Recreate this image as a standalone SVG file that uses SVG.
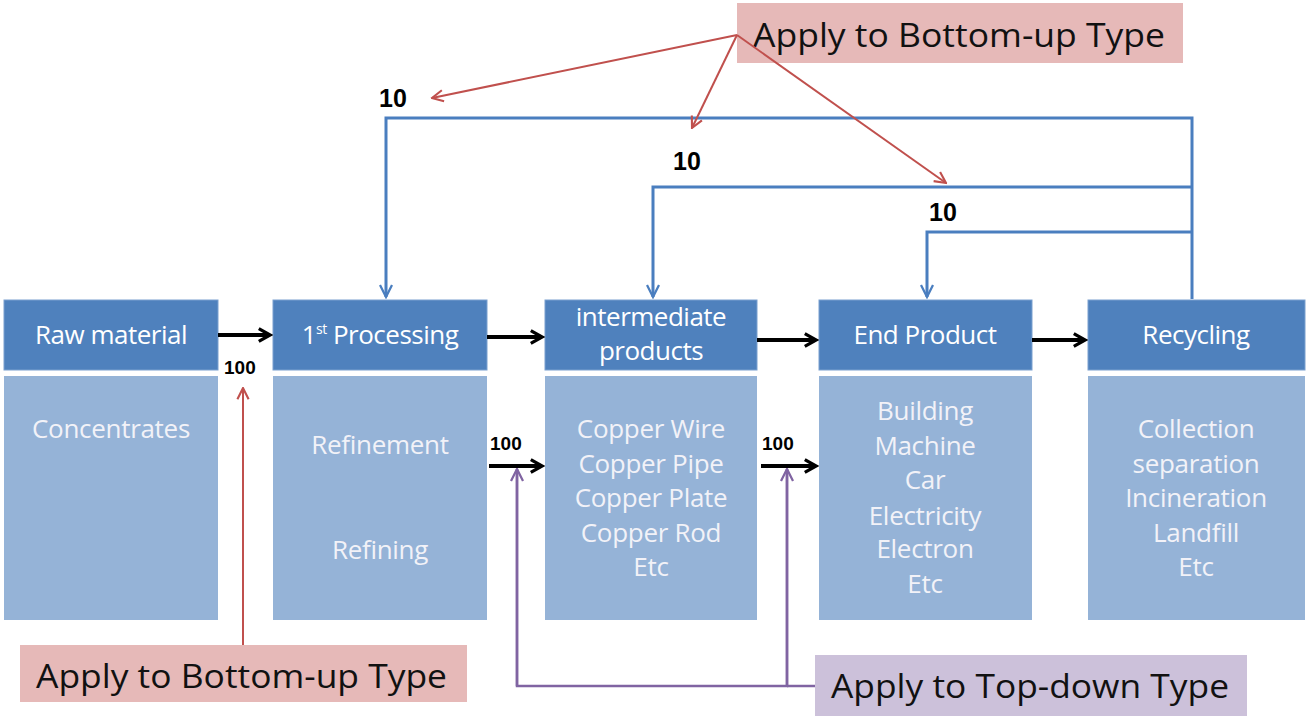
<svg xmlns="http://www.w3.org/2000/svg" width="1307" height="717" viewBox="0 0 1307 717">
<defs>
<style>
.hdr{fill:#4f81bd;stroke:#7aa0cf;stroke-width:1}
.body{fill:#95b3d7}
.ht{font-family:"Open Sans","Liberation Sans",sans-serif;font-size:26px;fill:#ffffff;text-anchor:middle;letter-spacing:-0.5px}
.bt{font-family:"Open Sans","Liberation Sans",sans-serif;font-size:26px;fill:#f2f2f8;text-anchor:middle;letter-spacing:-0.3px}
.num{font-family:"Liberation Sans",sans-serif;font-weight:bold;fill:#000}
.lbl{font-family:"Open Sans","Liberation Sans",sans-serif;font-size:32px;fill:#111}
.blk{stroke:#000;stroke-width:4;fill:none}
.blue{stroke:#4a7ebf;stroke-width:3;fill:none}
.red{stroke:#c0504d;stroke-width:2;fill:none}
.pur{stroke:#8064a2;stroke-width:2.5;fill:none}
</style>
<marker id="mb" viewBox="0 0 10 10" refX="8" refY="5" markerWidth="4" markerHeight="4" orient="auto" markerUnits="strokeWidth"><path d="M1,1 L8,5 L1,9" fill="none" stroke="#000" stroke-width="2"/></marker>
<marker id="mbl" viewBox="0 0 10 10" refX="9" refY="5" markerWidth="5" markerHeight="5" orient="auto" markerUnits="strokeWidth"><path d="M1,1 L9,5 L1,9" fill="none" stroke="#4a7ebf" stroke-width="1.5"/></marker>
<marker id="mr" viewBox="0 0 10 10" refX="9" refY="5" markerWidth="7" markerHeight="7" orient="auto" markerUnits="strokeWidth"><path d="M1,1 L9,5 L1,9" fill="none" stroke="#c0504d" stroke-width="1.5"/></marker>
<marker id="mp" viewBox="0 0 10 10" refX="9" refY="5" markerWidth="6" markerHeight="6" orient="auto" markerUnits="strokeWidth"><path d="M1,1 L9,5 L1,9" fill="none" stroke="#8064a2" stroke-width="1.5"/></marker>
</defs>
<rect width="1307" height="717" fill="#fff"/>

<g id="raw">
<rect class="hdr" x="4" y="300" width="214" height="70"/>
<text class="ht" x="111" y="344">Raw material</text>
<rect class="body" x="4" y="376" width="214" height="244"/>
<text class="bt" x="111" y="438">Concentrates</text>
</g>

<g id="proc1">
<rect class="hdr" x="273" y="300" width="214" height="70"/>
<text class="ht" x="380" y="344">1<tspan font-size="14" dy="-10">st</tspan><tspan dy="10">  Processing</tspan></text>
<rect class="body" x="273" y="376" width="214" height="244"/>
<text class="bt" x="380" y="454">Refinement</text>
<text class="bt" x="380" y="559">Refining</text>
</g>

<g id="inter">
<rect class="hdr" x="545" y="300" width="212" height="70"/>
<text class="ht" x="651" y="326">intermediate</text>
<text class="ht" x="651" y="360">products</text>
<rect class="body" x="545" y="376" width="212" height="244"/>
<text class="bt" x="651" y="438">Copper Wire</text>
<text class="bt" x="651" y="473">Copper Pipe</text>
<text class="bt" x="651" y="507">Copper Plate</text>
<text class="bt" x="651" y="542">Copper Rod</text>
<text class="bt" x="651" y="576">Etc</text>
</g>

<g id="endp">
<rect class="hdr" x="819" y="300" width="213" height="70"/>
<text class="ht" x="925" y="344">End Product</text>
<rect class="body" x="819" y="376" width="213" height="244"/>
<text class="bt" x="925" y="420">Building</text>
<text class="bt" x="925" y="455">Machine</text>
<text class="bt" x="925" y="489">Car</text>
<text class="bt" x="925" y="525">Electricity</text>
<text class="bt" x="925" y="558">Electron</text>
<text class="bt" x="925" y="593">Etc</text>
</g>

<g id="recy">
<rect class="hdr" x="1088" y="300" width="217" height="70"/>
<text class="ht" x="1196" y="344">Recycling</text>
<rect class="body" x="1088" y="376" width="217" height="244"/>
<text class="bt" x="1196" y="438">Collection</text>
<text class="bt" x="1196" y="473">separation</text>
<text class="bt" x="1196" y="507">Incineration</text>
<text class="bt" x="1196" y="542">Landfill</text>
<text class="bt" x="1196" y="576">Etc</text>
</g>

<g id="note-top">
<rect x="737" y="3" width="446" height="60" fill="#e6b9b8"/>
<text class="lbl" x="753" y="47" textLength="412" lengthAdjust="spacingAndGlyphs">Apply to Bottom-up Type</text>
</g>
<g id="note-bottom">
<rect x="20" y="645" width="447" height="57" fill="#e6b9b8"/>
<text class="lbl" x="36" y="688" textLength="411" lengthAdjust="spacingAndGlyphs">Apply to Bottom-up Type</text>
</g>
<g id="note-topdown">
<rect x="815" y="655" width="432" height="61" fill="#ccc1da"/>
<text class="lbl" x="831" y="698" textLength="398" lengthAdjust="spacingAndGlyphs">Apply to Top-down Type</text>
</g>

<g id="connectors">
<line class="blk" x1="218" y1="335" x2="270" y2="335" marker-end="url(#mb)"/>
<line class="blk" x1="487" y1="337" x2="542" y2="337" marker-end="url(#mb)"/>
<line class="blk" x1="757" y1="340" x2="816" y2="340" marker-end="url(#mb)"/>
<line class="blk" x1="1032" y1="340" x2="1085" y2="340" marker-end="url(#mb)"/>
<line class="blk" x1="489" y1="466" x2="542" y2="466" marker-end="url(#mb)"/>
<line class="blk" x1="761" y1="466" x2="816" y2="466" marker-end="url(#mb)"/>

<polyline class="blue" points="1192,299 1192,118 386,118 386,297" marker-end="url(#mbl)"/>
<polyline class="blue" points="1192,187 653,187 653,297" marker-end="url(#mbl)"/>
<polyline class="blue" points="1192,232 927,232 927,297" marker-end="url(#mbl)"/>

<line class="red" x1="737" y1="35" x2="432" y2="98" marker-end="url(#mr)"/>
<line class="red" x1="737" y1="35" x2="692" y2="128" marker-end="url(#mr)"/>
<line class="red" x1="737" y1="35" x2="946" y2="183" marker-end="url(#mr)"/>
<line class="red" x1="243" y1="645" x2="243" y2="388" marker-end="url(#mr)"/>

<polyline class="pur" points="517,470 517,686 787,686 787,470"/>
<line class="pur" x1="517" y1="686" x2="517" y2="469" marker-end="url(#mp)"/>
<line class="pur" x1="787" y1="686" x2="787" y2="469" marker-end="url(#mp)"/>
<line class="pur" x1="787" y1="686" x2="815" y2="686"/>
</g>

<g id="labels">
<text class="num" x="224" y="374" font-size="19">100</text>
<text class="num" x="490" y="450" font-size="19">100</text>
<text class="num" x="762" y="450" font-size="19">100</text>
<text class="num" x="379" y="107" font-size="25">10</text>
<text class="num" x="673" y="170" font-size="25">10</text>
<text class="num" x="929" y="221" font-size="25">10</text>
</g>
</svg>
